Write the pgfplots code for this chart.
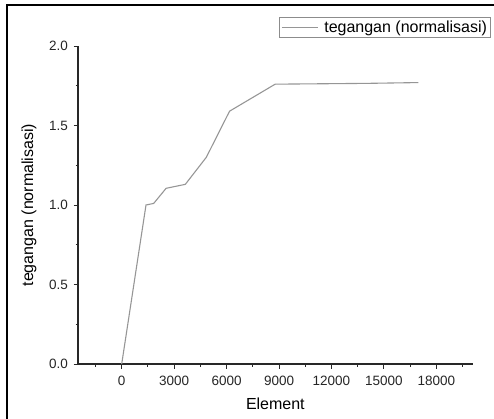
\documentclass[border=0pt]{standalone}
\usepackage{fontspec}
\setmainfont{Liberation Sans}
\usepackage{pgfplots}
\pgfplotsset{compat=1.18}
\definecolor{curvegray}{RGB}{150,150,150}
\definecolor{boxgray}{RGB}{140,140,140}
\definecolor{axisgray}{RGB}{40,40,40}
\begin{document}
\begin{tikzpicture}[x=1pt,y=1pt]
\useasboundingbox (0,0) rectangle (494,-418);
% outer frame
\draw[black,line width=2pt] (7,-419) -- (7,-5) -- (495,-5);
\begin{axis}[
  at={(78pt,-364pt)}, anchor=south west,
  scale only axis, width=394.7pt, height=318pt,
  xmin=-2500, xmax=20080, ymin=0, ymax=2.0,
  axis lines*=left,
  axis line style={axisgray,line width=1.1pt},
  xtick={0,3000,...,18000},
  minor xtick={-1500,1500,4500,7500,10500,13500,16500,19500},
  ytick={0,0.5,...,2.0},
  minor ytick={0.25,0.75,1.25,1.75},
  scaled x ticks=false,
  tick align=outside,
  major tick length=4.5pt, minor tick length=2.5pt,
  every tick/.style={axisgray,line width=1pt},
  tick label style={font=\fontsize{13.5}{15}\selectfont, text=black!85},
  /pgf/number format/assume math mode=true,
  xticklabel style={/pgf/number format/set thousands separator={}, /pgf/number format/fixed, yshift=-4pt},
  yticklabel style={/pgf/number format/fixed, /pgf/number format/fixed zerofill, /pgf/number format/precision=1, xshift=-2pt},
  xlabel={Element}, ylabel={tegangan (normalisasi)},
  label style={font=\fontsize{16}{18}\selectfont},
  xlabel style={yshift=-5pt},
  ylabel style={yshift=6pt},
  legend style={at={(1.046,1.091)}, anchor=north east, draw=boxgray, line width=0.6pt,
    font=\fontsize{16}{18}\selectfont, inner sep=1.5pt},
  legend cell align=left,
  legend image code/.code={\draw[#1] (0pt,0pt) -- (36pt,0pt); \path (40pt,0pt);},
  clip=false,
]
\addplot[curvegray, line width=1.1pt] coordinates {
  (0,0) (1390,1.0) (1830,1.01) (2540,1.105) (3640,1.13)
  (4840,1.30) (6170,1.59) (8780,1.76) (14000,1.765) (16970,1.77)
};
\addlegendentry{tegangan (normalisasi)}
\end{axis}
\end{tikzpicture}
\end{document}
